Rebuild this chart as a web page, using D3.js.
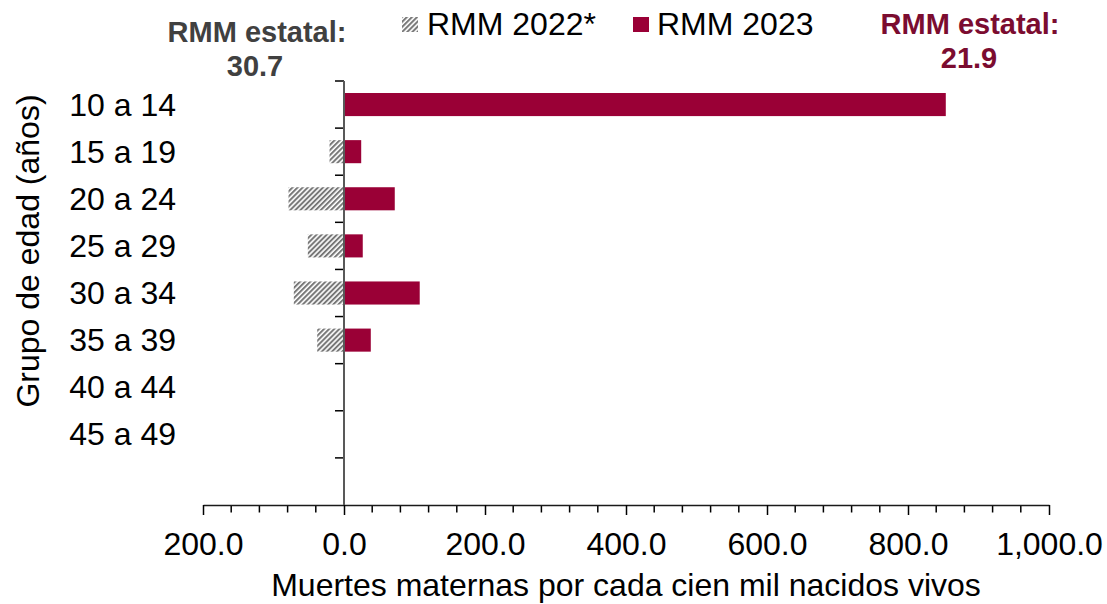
<!DOCTYPE html>
<html>
<head>
<meta charset="utf-8">
<script src="https://cdn.jsdelivr.net/npm/d3@7"></script>
<style>
  html, body { margin: 0; padding: 0; background: #fff; }
  svg { display: block; font-family: "Liberation Sans", Arial, sans-serif; }
</style>
</head>
<body>
<svg id="chart" width="1107" height="604"></svg>
<script>
// ---- data ----
const categories = ["10 a 14", "15 a 19", "20 a 24", "25 a 29", "30 a 34", "35 a 39", "40 a 44", "45 a 49", ""];
const rmm2022 = [0, 20.5, 78.7, 51.3, 71.2, 38.0, 0, 0, null];   // plotted to the left (mirror)
const rmm2023 = [853.6, 24.4, 72.0, 26.6, 107.4, 38.0, 0, 0, null];
const seriesNames = ["RMM 2022*", "RMM 2023"];
const xTicks = [-200, 0, 200, 400, 600, 800, 1000];
const stateLabel2022 = ["RMM estatal:", "30.7"];
const stateLabel2023 = ["RMM estatal:", "21.9"];
const xTitle = "Muertes maternas por cada cien mil nacidos vivos";
const yTitle = "Grupo de edad (años)";

// ---- layout ----
const svg = d3.select("#chart");
const RED = "#9a0036";
const DARKRED = "#7b0c30";
const FS = 32;

const defs = svg.append("defs");
const pat = defs.append("pattern")
  .attr("id", "hatch")
  .attr("patternUnits", "userSpaceOnUse")
  .attr("width", 3.6).attr("height", 10)
  .attr("patternTransform", "rotate(45)");
pat.append("rect").attr("width", 3.6).attr("height", 10).attr("fill", "#fff");
pat.append("rect").attr("width", 2.0).attr("height", 10).attr("fill", "#777777");

const x = d3.scaleLinear().domain([-200, 1000]).range([203, 1049]);
const y = d3.scaleBand().domain(categories.map((c, i) => i)).range([81, 505]).paddingInner(0.51).paddingOuter(0.255);
const yb = d3.scaleLinear().domain([0, categories.length]).range([81, 505]);

// bars 2022 (hatched, negative side)
svg.append("g").selectAll("rect")
  .data(rmm2022.map((v, i) => ({v, i})).filter(d => d.v))
  .join("rect")
  .attr("x", d => x(-d.v))
  .attr("width", d => x(0) - x(-d.v))
  .attr("y", d => y(d.i))
  .attr("height", y.bandwidth())
  .attr("fill", "url(#hatch)");

// bars 2023
svg.append("g").selectAll("rect")
  .data(rmm2023.map((v, i) => ({v, i})).filter(d => d.v))
  .join("rect")
  .attr("x", x(0))
  .attr("width", d => x(d.v) - x(0))
  .attr("y", d => y(d.i))
  .attr("height", y.bandwidth())
  .attr("fill", RED);

// x axis: minor ticks
const minor = d3.range(-200, 1001, 40).filter(v => v % 200 !== 0);
svg.append("g").selectAll("line").data(minor).join("line")
  .attr("x1", d => x(d)).attr("x2", d => x(d))
  .attr("y1", 505).attr("y2", 512.5)
  .attr("stroke", "#000").attr("stroke-width", 1.5);

const xAxis = d3.axisBottom(x).tickValues(xTicks)
  .tickFormat(d => d3.format(",.1f")(Math.abs(d)))
  .tickSizeInner(10).tickSizeOuter(0);
const gx = svg.append("g").attr("transform", "translate(0,505)").call(xAxis);
gx.select(".domain").attr("stroke", "#1a1a1a").attr("stroke-width", 1.5);
gx.selectAll(".tick line").attr("stroke", "#000").attr("stroke-width", 1.5);
gx.selectAll(".tick text").attr("font-size", FS).attr("fill", "#000")
  .attr("font-family", "Liberation Sans, Arial, sans-serif")
  .attr("y", 50).attr("dy", 0);

// y axis line at x=0 with ticks at band boundaries
svg.append("g").selectAll("line")
  .data(d3.range(0, categories.length))
  .join("line")
  .attr("x1", x(0) - 9).attr("x2", x(0))
  .attr("y1", d => yb(d)).attr("y2", d => yb(d))
  .attr("stroke", "#000").attr("stroke-width", 1.5);
svg.append("line")
  .attr("x1", x(0)).attr("x2", x(0))
  .attr("y1", yb(0)).attr("y2", yb(categories.length))
  .attr("stroke", "#595959").attr("stroke-width", 2);

// category labels
svg.append("g").selectAll("text")
  .data(categories)
  .join("text")
  .attr("x", 176)
  .attr("y", (d, i) => y(i) + y.bandwidth() / 2 + 11)
  .attr("text-anchor", "end")
  .attr("font-size", FS)
  .attr("fill", "#000")
  .text(d => d);

// axis titles
svg.append("text")
  .attr("x", (272 + 980) / 2).attr("y", 596)
  .attr("text-anchor", "middle").attr("font-size", FS).attr("fill", "#000")
  .text(xTitle);
svg.append("text")
  .attr("transform", "translate(39,251) rotate(-90)")
  .attr("text-anchor", "middle").attr("font-size", FS).attr("fill", "#000")
  .text(yTitle);

// legend
const leg = svg.append("g");
leg.append("rect").attr("x", 402).attr("y", 17).attr("width", 16).attr("height", 15).attr("fill", "url(#hatch)");
leg.append("text").attr("x", 427).attr("y", 35).attr("font-size", FS).attr("fill", "#000").text(seriesNames[0]);
leg.append("rect").attr("x", 633).attr("y", 17).attr("width", 16).attr("height", 15).attr("fill", RED);
leg.append("text").attr("x", 657).attr("y", 35).attr("font-size", FS).attr("fill", "#000").text(seriesNames[1]);

// state labels
const s1 = svg.append("g").attr("font-weight", "bold").attr("font-size", 29).attr("fill", "#404040").attr("text-anchor", "middle");
s1.append("text").attr("x", 257).attr("y", 42).text(stateLabel2022[0]);
s1.append("text").attr("x", 255).attr("y", 76).text(stateLabel2022[1]);
const s2 = svg.append("g").attr("font-weight", "bold").attr("font-size", 29).attr("fill", DARKRED).attr("text-anchor", "middle");
s2.append("text").attr("x", 970).attr("y", 34).text(stateLabel2023[0]);
s2.append("text").attr("x", 969).attr("y", 68).text(stateLabel2023[1]);
</script>
</body>
</html>
